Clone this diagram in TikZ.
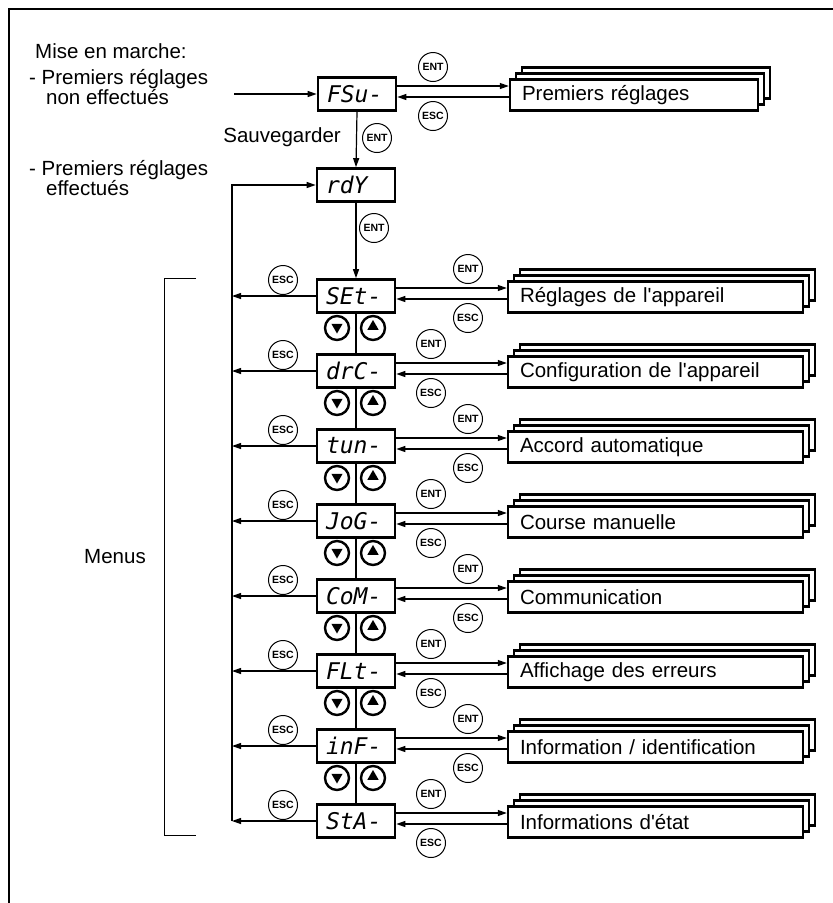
\documentclass[tikz,border=0pt]{standalone}
\usepackage{fontspec}
\setmainfont{Liberation Sans}
\newfontfamily\segfont{DejaVu Sans Mono}
\usetikzlibrary{arrows.meta,shapes.geometric,calc}
\newcommand\stackbox[6]{% name, cx, cy, width, textwidth, text
  \draw[stk] ({#2-#4/2+12},{#3-15.5-12}) rectangle ++(#4,31);
  \draw[stk] ({#2-#4/2+6},{#3-15.5-6}) rectangle ++(#4,31);
  \node[menu, minimum width=#4pt, text width=#5pt] (#1) at (#2,#3) {#6};
}
\begin{document}
\begin{tikzpicture}[x=1pt,y=-1pt,
  lbl/.style={font=\fontsize{20.5}{22}\selectfont, inner sep=0pt, anchor=west},
  arr/.style={line width=1.2pt, -{Triangle[length=9pt,width=6pt]}},
  ln/.style={line width=1.2pt},
  disp/.style={draw, line width=2.7pt, minimum width=78pt, minimum height=33pt, inner xsep=9pt, inner ysep=0pt, text width=60pt, align=left, font=\segfont\itshape\fontsize{23}{24}\selectfont},
  key/.style={draw, circle, line width=1pt, minimum size=29pt, inner sep=0pt, font=\bfseries\fontsize{10.5}{11}\selectfont},
  nav/.style={draw, circle, line width=2.4pt, minimum size=24pt, inner sep=0pt},
  tri/.style={regular polygon, regular polygon sides=3, fill, draw=none, inner sep=0pt, minimum size=13pt},
  stk/.style={draw, line width=2.4pt, fill=white},
  menu/.style={stk, minimum height=31pt, inner xsep=12pt, inner ysep=0pt, align=left, font=\fontsize{20.5}{22}\selectfont}
]
\useasboundingbox (0,0) rectangle (833,903);
% frame
\draw[line width=1.6pt] (9,903) -- (9,9) -- (833,9);

% left texts
\node[lbl] (mise) at (35,51) {Mise en marche:};
\node[lbl] (pr1) at (29,79) {- Premiers réglages};
\node[lbl] (pr1b) at (46,97) {non effectués};
\node[lbl] (pr2) at (29,170) {- Premiers réglages};
\node[lbl] (pr2b) at (46,188) {effectués};
\node[lbl, anchor=east] (sauv) at (341,137) {Sauvegarder};
\node[lbl, anchor=center] (menus) at (115,557) {Menus};

% bracket
\draw[line width=1pt] (196,278) -- (164,278) -- (164,835) -- (196,835);

% first setup
\node[disp] (fsu) at (357,94) {FSu-};
\coordinate (start) at (234,94);
\draw[arr] (start) -- (fsu.west);
\stackbox{st0}{634}{95}{248}{224}{Premiers réglages}
\draw[arr] ([yshift=8pt]fsu.east) -- ([yshift=8pt]fsu.east -| st0.west);
\draw[arr] ([yshift=-3pt]fsu.east -| st0.west) -- ([yshift=-3pt]fsu.east);
\node[key] (ent0) at (433,67) {ENT};
\node[key] (esc0) at (433,116) {ESC};

\node[disp] (rdy) at (356,185) {rdY};
\draw[arr] (fsu.south) -- (rdy.north);
\node[key] (entf) at (377,138) {ENT};

\coordinate (bus) at (232,185);

\foreach \k/\code/\txt in {1/SEt-/{Réglages de l\textquotesingle appareil},2/drC-/{Configuration de l\textquotesingle appareil},3/tun-/{Accord automatique},4/JoG-/{Course manuelle},5/CoM-/{Communication},6/FLt-/{Affichage des erreurs},7/inF-/{Information / identification},8/StA-/{Informations d\textquotesingle état}}{
  \pgfmathsetmacro\yy{296+75*(\k-1)}
  \pgfmathsetmacro\cx{ifthenelse(mod(\k,2)==1,468,431)}
  \node[disp] (m\k) at (356,\yy) {\code};
  \stackbox{s\k}{655.5}{\yy+1}{295}{271}{\txt}
  \draw[arr] ([yshift=8pt]m\k.east) -- ([yshift=8pt]m\k.east -| s\k.west);
  \draw[arr] ([yshift=-3pt]m\k.east -| s\k.west) -- ([yshift=-3pt]m\k.east);
  \node[key] (ent\k) at (\cx,\yy-27) {ENT};
  \node[key] (escr\k) at (\cx,\yy+22) {ESC};
  \node[key] (escl\k) at (283,\yy-16) {ESC};
  \draw[arr] (m\k.west) -- (m\k.west -| bus);
}
\foreach \k in {1,...,7}{
  \pgfmathtruncatemacro\kk{\k+1}
  \pgfmathsetmacro\yy{296+75*(\k-1)+32}
  \draw[ln] (m\k.south) -- (m\kk.north);
  \node[nav] (dn\k) at (337,\yy) {};
  \node[nav] (up\k) at (373,\yy) {};
  \node[tri, shape border rotate=180] at ([yshift=1pt]dn\k.center) {};
  \node[tri] at ([yshift=1.5pt]up\k.center) {};
}
\draw[arr] (rdy.south) -- (m1.north);
\node[key] (entr) at (374,228) {ENT};
\draw[arr] (m8.west -| bus) -- (bus |- rdy.west) -- (rdy.west);
\end{tikzpicture}
\end{document}
